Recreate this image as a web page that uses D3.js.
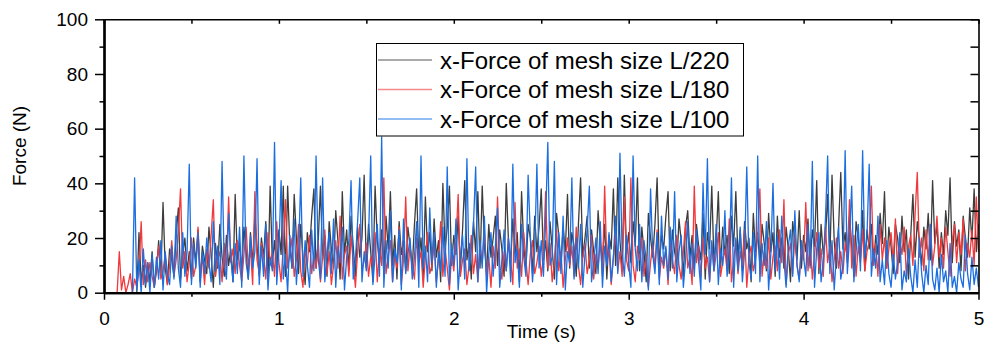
<!DOCTYPE html>
<html>
<head>
<meta charset="utf-8">
<script src="https://cdn.jsdelivr.net/npm/d3@7"></script>
<style>
  html, body { margin: 0; padding: 0; background: #fff; }
  svg { display: block; font-family: "Liberation Sans", Arial, sans-serif; }
</style>
</head>
<body>
<svg id="chart" width="987" height="347"></svg>
<script>
// ---------- DATA ----------
const timeStep = 0.0125;           // s between samples
const xTicks = [0, 1, 2, 3, 4, 5];
const xMinorTicks = [0.5, 1.5, 2.5, 3.5, 4.5];
const yTicks = [0, 20, 40, 60, 80, 100];
const yMinorTicks = [10, 30, 50, 70, 90];
const seriesNames = ["x-Force of mesh size L/220", "x-Force of mesh size L/180", "x-Force of mesh size L/100"];
const seriesColors = ["#3d3d3d", "#f0393c", "#1b6ee0"];
const legendColors = ["#8e8e8e", "#f38a8c", "#6fa6ee"];

const forceL220 = [
0,0,0,0,0,0,0,0,0,0,0,0,0,0,0,0,22,4,10,2,
11,4,15,2,8,19,6,33,9,3,16,12,6,21,31,5,14,20,8,15,
5,20,11,23,4,17,12,7,24,14,2,18,9,25,13,6,21,10,16,4,
36,12,18,7,24,15,5,22,10,28,17,6,20,13,26,4,39,11,19,8,
23,14,39,6,39,17,9,36,20,7,25,13,3,22,15,28,38,9,19,39,
12,21,6,26,16,9,30,19,5,37,14,23,8,28,17,6,24,13,20,43,
9,25,15,4,39,19,11,23,7,28,16,37,10,21,5,26,14,19,8,24,
17,9,25,38,12,20,6,35,15,22,8,27,13,19,4,40,16,24,39,10,
21,14,28,8,23,41,12,18,5,26,15,37,9,39,17,7,25,13,20,28,
10,23,16,6,40,19,11,27,14,22,4,37,17,9,25,20,7,28,15,24,
38,12,19,8,26,16,5,29,21,10,24,15,36,9,22,17,6,25,42,13,
20,28,9,23,15,7,30,18,12,25,5,21,16,38,10,42,19,8,43,14,
22,11,26,17,42,8,24,15,4,29,20,13,25,42,10,21,16,28,37,8,
23,15,10,27,19,6,24,30,13,21,9,25,17,12,29,5,22,16,39,11,
19,37,9,24,14,21,7,28,17,37,12,23,8,26,16,20,4,29,15,22,
10,25,18,8,29,15,22,6,28,13,20,9,24,16,4,26,19,12,30,9,
21,15,27,10,23,17,41,7,25,14,20,36,12,43,19,9,24,44,16,22,
11,28,17,6,26,20,13,30,8,23,16,25,10,21,14,29,18,37,9,24,
17,7,25,20,11,28,15,23,5,21,36,13,26,19,10,24,16,29,12,41,
18,25,9,22,14,30,21,42,11,26,17,23,8,28,20,13,31,19,38,15,
25];

const forceL180 = [
0,0,0,0,0,0,0,15,1,6,0,3,7,0,5,2,8,26,3,12,
4,11,6,2,9,17,5,8,14,3,10,19,6,12,22,38,9,15,4,11,
20,6,10,24,7,13,3,16,9,21,34,6,12,15,4,18,8,35,11,16,
7,19,10,4,14,24,9,16,3,37,12,7,18,13,5,22,10,15,6,26,
11,4,17,34,9,14,20,6,12,25,8,2,16,10,21,7,14,9,19,4,
13,23,7,15,3,10,19,9,28,5,14,17,6,21,11,2,15,25,8,12,
18,6,13,9,22,4,16,10,42,7,13,19,4,14,9,24,3,12,35,8,
17,10,5,20,11,15,2,13,22,7,10,18,4,12,26,6,16,9,1,14,
8,19,36,6,12,16,3,10,21,7,14,4,17,11,23,6,13,2,17,9,
35,10,5,15,8,20,12,3,33,9,16,6,22,12,3,14,19,7,11,17,
6,13,37,9,18,4,11,23,8,15,2,12,20,10,17,6,24,10,3,13,
18,7,12,21,5,14,9,19,6,39,11,16,3,13,22,8,15,6,35,12,
8,42,10,4,17,12,20,6,14,2,11,18,9,23,5,13,9,16,3,19,
12,7,21,10,5,15,26,9,13,3,39,11,17,6,20,9,13,4,18,8,
14,22,6,11,16,8,27,4,12,19,7,15,10,23,2,13,17,8,12,21,
38,6,15,9,20,5,13,17,8,23,11,34,3,14,18,7,21,10,5,16,
12,33,8,19,5,14,22,9,16,6,24,11,17,4,12,20,9,15,7,18,
13,34,9,21,6,17,11,23,8,15,19,39,10,18,6,25,12,20,9,16,
22,11,27,7,19,14,24,6,17,21,10,29,44,13,20,8,23,12,25,10,
17,28,13,20,9,24,15,6,19,25,11,22,14,27,8,18,13,23,10,35,
15];

const forceL100 = [
0,0,0,0,0,0,0,0,0,0,0,0,0,0,42,1,12,0,16,3,
11,0,14,2,13,5,19,1,15,7,3,17,5,28,9,2,22,6,15,47,
3,18,9,22,2,15,7,20,11,4,26,8,17,3,48,10,5,29,13,4,
18,7,24,2,50,11,5,21,9,15,49,3,17,6,25,1,13,8,55,3,
16,41,5,14,0,21,9,27,3,15,42,6,19,10,2,23,8,50,12,5,
42,4,14,22,7,27,2,17,11,24,1,13,19,41,5,12,26,42,4,15,
8,20,50,3,14,25,6,57,2,19,9,30,4,16,11,23,1,27,7,14,
20,5,13,26,2,50,9,17,4,31,11,22,2,15,8,24,6,46,3,18,
10,27,1,13,21,5,49,8,16,25,46,4,19,9,28,0,14,22,6,17,
31,2,12,23,8,20,4,47,11,16,2,25,13,6,43,21,4,15,47,9,
19,6,26,55,10,13,48,3,22,7,28,1,15,11,42,5,20,9,25,2,
14,23,39,4,11,20,7,26,2,17,10,22,4,13,28,7,51,15,6,21,
11,2,50,16,8,25,4,19,12,1,38,14,7,22,3,28,10,17,5,24,
9,37,4,15,21,2,12,26,7,18,6,23,11,1,40,14,49,4,19,8,
25,3,16,10,30,6,13,42,2,20,8,24,4,15,46,11,5,22,7,50,
4,18,10,26,1,14,40,8,21,5,28,12,2,17,23,6,30,10,4,19,
13,6,25,9,48,2,16,22,4,11,27,50,7,19,1,14,24,5,10,52,
7,20,39,4,15,25,8,52,13,21,47,6,16,9,28,4,12,3,19,7,
2,14,5,11,22,1,8,4,16,6,0,12,2,20,7,0,10,3,25,5,
1,9,0,14,4,8,0,18,2,6,0,11,5,2,21,7,1,13,3,9,
2];

// ---------- CHART ----------
const svg = d3.select("#chart");
const plotLeft = 104, plotRight = 978.5, plotTop = 19.3, plotBottom = 292.7;

const x = d3.scaleLinear().domain([0, 5]).range([plotLeft, plotRight]);
const y = d3.scaleLinear().domain([0, 100]).range([plotBottom, plotTop]);

const series = [forceL220, forceL180, forceL100];
const line = d3.line()
  .x((d, i) => x(i * timeStep))
  .y(d => y(d));

series.forEach((vals, k) => {
  svg.append("path")
    .datum(vals)
    .attr("fill", "none")
    .attr("stroke", seriesColors[k])
    .attr("stroke-width", 1.3)
    .attr("stroke-linejoin", "round")
    .attr("d", line);
});

// axes
const fontSize = 19;
function styleAxis(g, width) {
  g.selectAll(".domain").attr("stroke", "#000").attr("stroke-width", width);
  g.selectAll(".tick line").attr("stroke", "#000").attr("stroke-width", 1.5);
  g.selectAll("text").attr("fill", "#000").attr("font-size", fontSize)
    .attr("font-family", "'Liberation Sans', Arial, sans-serif");
}

// bottom
const gB = svg.append("g").attr("transform", `translate(0,${plotBottom})`)
  .call(d3.axisBottom(x).tickValues(xTicks).tickFormat(d3.format("d"))
    .tickSizeInner(7).tickSizeOuter(0).tickPadding(12.3));
styleAxis(gB, 2.2);
const gBm = svg.append("g").attr("transform", `translate(0,${plotBottom})`)
  .call(d3.axisBottom(x).tickValues(xMinorTicks).tickFormat("")
    .tickSizeInner(4).tickSizeOuter(0));
styleAxis(gBm, 2.2);

// left
const gL = svg.append("g").attr("transform", `translate(${plotLeft},0)`)
  .call(d3.axisLeft(y).tickValues(yTicks).tickFormat(d3.format("d"))
    .tickSizeInner(9).tickSizeOuter(0).tickPadding(7));
styleAxis(gL, 2.2);
const gLm = svg.append("g").attr("transform", `translate(${plotLeft},0)`)
  .call(d3.axisLeft(y).tickValues(yMinorTicks).tickFormat("")
    .tickSizeInner(4.5).tickSizeOuter(0));
styleAxis(gLm, 2.2);

// top (inward ticks)
const gT = svg.append("g").attr("transform", `translate(0,${plotTop})`)
  .call(d3.axisTop(x).tickValues(xTicks.concat(xMinorTicks)).tickFormat("")
    .tickSizeInner(-4.5).tickSizeOuter(0));
styleAxis(gT, 1.6);

// right (inward ticks)
const gR = svg.append("g").attr("transform", `translate(${plotRight},0)`)
  .call(d3.axisRight(y).tickValues(yTicks.concat(yMinorTicks)).tickFormat("")
    .tickSizeInner(-8).tickSizeOuter(0));
styleAxis(gR, 1.6);

// axis titles
svg.append("text")
  .attr("x", (plotLeft + plotRight) / 2).attr("y", 338)
  .attr("text-anchor", "middle").attr("font-size", 19).attr("fill", "#000")
  .text("Time (s)");
svg.append("text")
  .attr("transform", "translate(26,146) rotate(-90)")
  .attr("text-anchor", "middle").attr("font-size", 19).attr("fill", "#000")
  .text("Force (N)");

// legend
const lg = svg.append("g");
lg.append("rect")
  .attr("x", 376.5).attr("y", 43.5).attr("width", 367).attr("height", 92.5)
  .attr("fill", "#fff").attr("stroke", "#000").attr("stroke-width", 1);
const rowY = [60, 89.5, 119];
seriesNames.forEach((name, k) => {
  lg.append("line")
    .attr("x1", 378).attr("x2", 432).attr("y1", rowY[k]).attr("y2", rowY[k])
    .attr("stroke", legendColors[k]).attr("stroke-width", 1.3);
  lg.append("text")
    .attr("x", 440).attr("y", rowY[k]).attr("dy", "0.36em")
    .attr("font-size", 24).attr("fill", "#000")
    .text(name);
});
</script>
</body>
</html>
